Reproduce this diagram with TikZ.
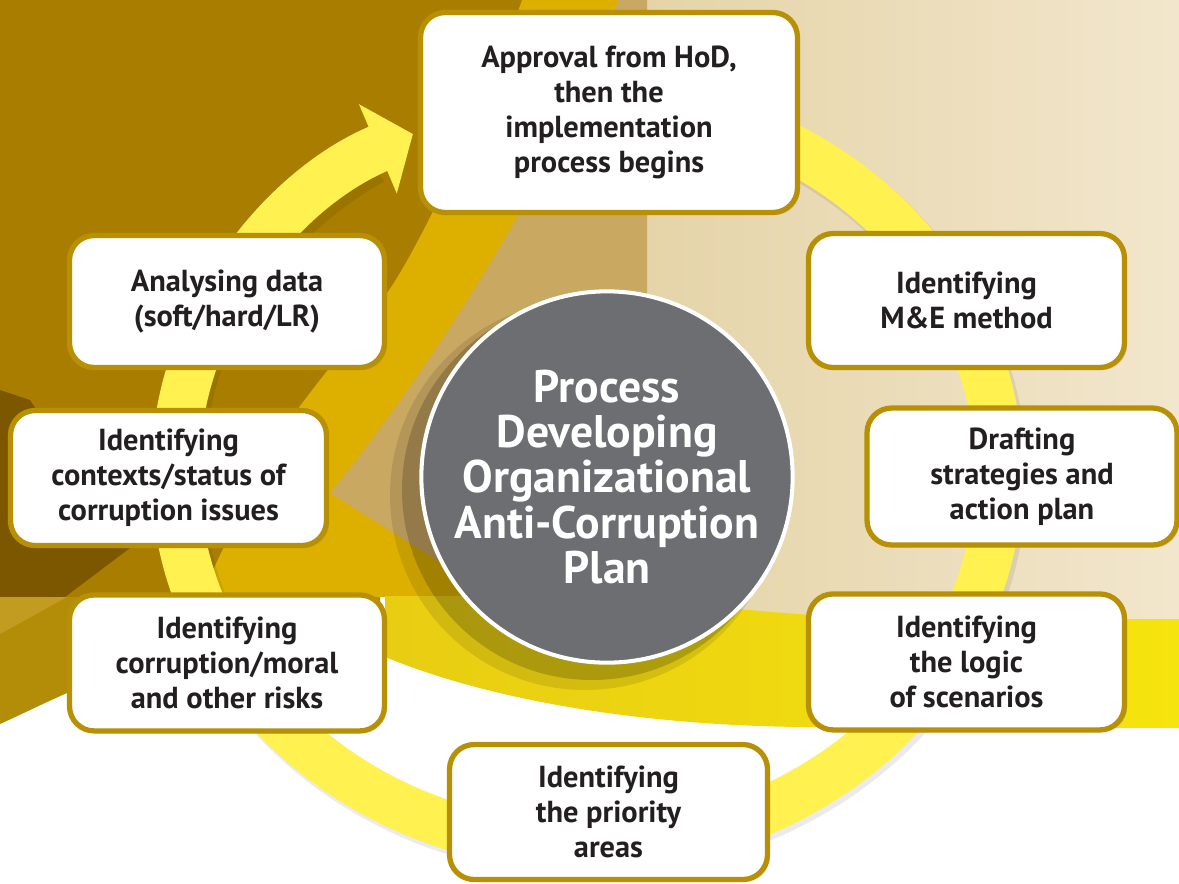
\documentclass[tikz,border=0pt]{standalone}
\usepackage{fontspec}
\setmainfont{PT Sans}
\usetikzlibrary{arrows.meta,shadows,positioning}

\definecolor{darkgold}{RGB}{169,126,0}
\definecolor{brightgold}{RGB}{221,176,0}
\definecolor{tan}{RGB}{201,168,98}
\definecolor{beigeL}{RGB}{229,212,168}
\definecolor{beigeR}{RGB}{242,230,204}
\definecolor{brown}{RGB}{124,87,0}
\definecolor{lowgold}{RGB}{180,141,8}
\definecolor{stripegold}{RGB}{193,156,32}
\definecolor{bandL}{RGB}{232,205,18}
\definecolor{bandR}{RGB}{246,228,14}
\definecolor{ringyellow}{RGB}{255,241,80}
\definecolor{boxgold}{RGB}{184,144,6}
\definecolor{hubgray}{RGB}{109,110,113}
\definecolor{ink}{RGB}{35,31,32}

\begin{document}
\begin{tikzpicture}[x=0.02cm,y=-0.02cm,node distance=7.23cm]
      \tikzstyle{stepbox}=[rectangle,rounded corners=14pt,draw=boxgold,line width=3pt,fill=white,align=center,text=ink,inner sep=0pt,font=\bfseries\fontsize{17.3}{19.8}\selectfont,drop shadow={opacity=0.15,shadow xshift=1.5pt,shadow yshift=-1.5pt}]
      \tikzstyle{hub}=[circle,fill=hubgray,draw=white,line width=2.3pt,minimum size=7.28cm,inner sep=0pt,align=center,text=white,font=\bfseries\fontsize{26}{25.8}\selectfont]
      \tikzstyle{ring}=[draw=ringyellow,line width=0.96cm]

      \useasboundingbox (0,0) rectangle (1179,883);

      % background
      \fill[white] (0,0) rectangle (1179,883);
      \shade[left color=beigeL,right color=beigeR] (640,0) rectangle (1179,625);
      \fill[brightgold] (0,0) rectangle (647,597);
      \fill[tan] (618,0) .. controls (590,100) and (470,320) .. (330,493) -- (500,600) -- (647,600) -- (647,0) -- cycle;
      \fill[darkgold] (0,0) -- (522,0) .. controls (490,90) and (430,230) .. (387,293)
        .. controls (350,345) and (300,400) .. (270,450) -- (200,597) -- (0,597) -- cycle;
      \fill[brown] (0,390) -- (30,400) -- (130,548) -- (65,597) -- (0,597) -- cycle;
      \fill[lowgold] (0,597) -- (380,597) -- (380,690) -- (67,693) .. controls (40,705) and (20,715) .. (0,724) -- cycle;
      \fill[stripegold] (0,597) -- (67,597) -- (0,634) -- cycle;
      \shade[left color=bandL,right color=bandR] (385,596) -- (560,596) .. controls (680,600) and (780,617) .. (900,619)
        -- (1179,619) -- (1179,728) -- (803,727) .. controls (690,726) and (520,712) .. (385,657) -- cycle;

      % ring with arrow
      \draw[black,opacity=0.08,line width=1.0cm] (590,477) ++(-80:412 and 374)
        arc[start angle=-80,end angle=238,x radius=412,y radius=374];
      \draw[ring,-{Triangle[width=1.9cm,length=0.76cm]}] (587,473) ++(-80:412 and 374)
        arc[start angle=-80,end angle=245,x radius=412,y radius=374];

      % centre
      \fill[black,opacity=0.1] (585,495) circle[radius=195];
      \fill[black,opacity=0.18] (592,490) circle[radius=190];
      \node[hub] (hub) at (607,477) {Process\\Developing\\Organizational\\Anti-Corruption\\Plan};

      % steps
      \node[stepbox,minimum width=7.54cm,minimum height=4.0cm] (approve) at (609,112.5) {Approval from HoD,\\then the\\implementation\\process begins};
      \node[stepbox,minimum width=6.3cm,minimum height=2.64cm] (analyse) at (227,301.5) {Analysing data\\(soft/hard/LR)};
      \node[stepbox,minimum width=6.32cm,minimum height=2.68cm] (method) at (966.5,300.5) {Identifying\\M\&E method};
      \node[stepbox,minimum width=6.32cm,minimum height=2.7cm] (context) at (168.5,478) {Identifying\\contexts/status of\\corruption issues};
      \node[stepbox,minimum width=6.2cm,minimum height=2.74cm] (draft) at (1022,476.5) {Drafting\\strategies and\\action plan};
      \node[stepbox,minimum width=6.3cm,minimum height=2.72cm] (risk) [below of=analyse] {Identifying\\corruption/moral\\and other risks};
      \node[stepbox,minimum width=6.32cm,minimum height=2.72cm] (logic) [below of=method] {Identifying\\the logic\\of scenarios};
      \node[stepbox,minimum width=6.36cm,minimum height=2.7cm] (priority) at (608.5,812) {Identifying\\the priority\\areas};
\end{tikzpicture}
\end{document}
